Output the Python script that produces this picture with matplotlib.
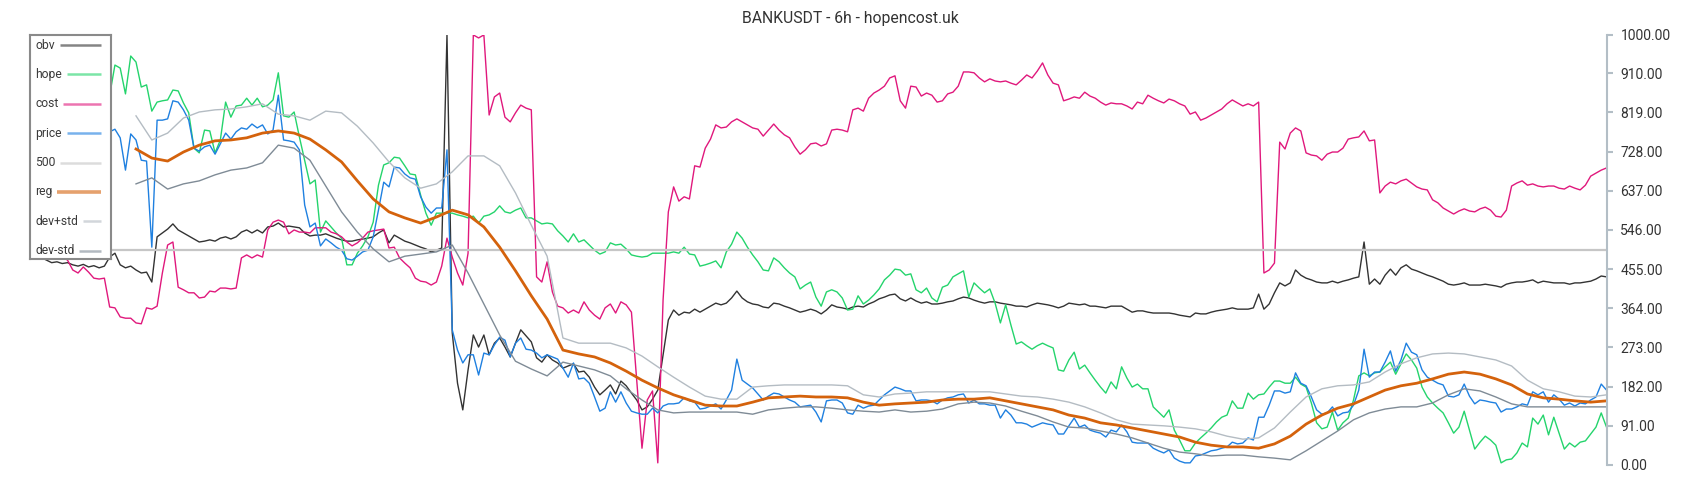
import numpy as np
import matplotlib
matplotlib.use('Agg')
import matplotlib.pyplot as plt
from matplotlib.colors import to_rgba

plt.rcParams['font.family'] = ['Roboto', 'DejaVu Sans']

title = 'BANKUSDT - 6h - hopencost.uk'
labels = ['obv', 'hope', 'cost', 'price', '500', 'reg', 'dev+std', 'dev-std']
level = 500
yticks = [0, 91, 182, 273, 364, 455, 546, 637, 728, 819, 910, 1000]

# one value per 6h candle
obv = [
    480, 478, 482, 476, 470, 472, 468, 470, 465, 462,
    466, 460, 463, 458, 462, 483, 492, 465, 458, 462,
    453, 446, 448, 425, 530, 539, 548, 560, 546, 539,
    532, 525, 518, 520, 523, 520, 527, 530, 525, 530,
    541, 546, 539, 546, 539, 553, 555, 562, 553, 555,
    553, 551, 539, 532, 534, 534, 537, 532, 527, 523,
    520, 520, 523, 525, 527, 530, 539, 546, 516, 534,
    527, 520, 516, 511, 506, 502, 495, 499, 504, 999,
    307, 190, 128, 221, 302, 274, 302, 256, 283, 295,
    274, 251, 283, 314, 300, 286, 249, 239, 256, 244,
    237, 225, 230, 235, 216, 218, 204, 181, 163, 174,
    186, 165, 195, 184, 167, 151, 128, 135, 153, 174,
    256, 337, 360, 348, 355, 353, 362, 355, 362, 369,
    376, 372, 376, 388, 404, 388, 379, 374, 372, 367,
    365, 376, 374, 369, 365, 360, 355, 358, 362, 358,
    351, 360, 372, 367, 365, 362, 367, 369, 367, 374,
    379, 386, 390, 395, 397, 386, 381, 388, 381, 376,
    379, 374, 374, 376, 379, 381, 386, 390, 388, 383,
    379, 376, 379, 379, 376, 374, 372, 369, 369, 367,
    372, 376, 374, 372, 369, 365, 369, 376, 374, 372,
    374, 369, 369, 367, 365, 369, 369, 369, 362, 355,
    358, 358, 355, 353, 353, 353, 353, 351, 348, 346,
    344, 353, 351, 351, 355, 358, 360, 362, 365, 362,
    362, 362, 365, 397, 362, 374, 400, 423, 416, 423,
    453, 441, 434, 430, 425, 423, 423, 427, 423, 427,
    430, 434, 437, 518, 420, 432, 420, 441, 455, 441,
    458, 465, 455, 451, 446, 441, 437, 432, 427, 420,
    418, 420, 423, 418, 418, 418, 420, 418, 416, 413,
    420, 423, 425, 425, 427, 430, 423, 427, 425, 423,
    423, 423, 420, 423, 423, 425, 427, 432, 439, 437,
]

hope = [
    880, 900, 870, 890, 860, 880, 900, 920, 890, 870,
    900, 880, 860, 870, 880, 859, 929, 922, 862, 950,
    936, 878, 883, 822, 843, 846, 848, 871, 869, 841,
    818, 736, 725, 778, 776, 725, 755, 843, 808, 834,
    836, 852, 836, 852, 832, 836, 848, 911, 811, 808,
    820, 762, 708, 653, 662, 541, 567, 553, 539, 527,
    465, 465, 492, 509, 530, 564, 650, 697, 702, 715,
    713, 695, 676, 674, 627, 585, 557, 585, 585, 585,
    585, 581, 578, 574, 578, 562, 578, 581, 588, 602,
    588, 585, 592, 597, 574, 574, 567, 560, 562, 560,
    544, 532, 518, 537, 518, 523, 511, 499, 490, 495,
    516, 511, 513, 502, 488, 485, 483, 485, 492, 492,
    492, 492, 495, 492, 506, 490, 488, 462, 465, 469,
    474, 458, 495, 513, 541, 527, 506, 488, 472, 453,
    451, 481, 472, 458, 446, 437, 409, 418, 425, 390,
    369, 402, 407, 402, 388, 360, 362, 393, 374, 383,
    395, 409, 430, 441, 455, 453, 441, 444, 407, 400,
    411, 388, 379, 413, 418, 437, 444, 451, 390, 423,
    411, 400, 409, 376, 330, 372, 325, 281, 286, 277,
    269, 277, 283, 277, 272, 221, 218, 244, 262, 223,
    232, 214, 197, 181, 167, 193, 177, 228, 202, 181,
    188, 177, 177, 135, 123, 111, 128, 81, 58, 33,
    33, 51, 63, 74, 86, 100, 111, 116, 149, 132,
    132, 167, 153, 163, 165, 181, 195, 195, 190, 190,
    204, 188, 181, 144, 98, 84, 88, 123, 81, 98,
    109, 151, 207, 214, 207, 214, 216, 228, 239, 211,
    235, 258, 244, 225, 181, 158, 144, 132, 121, 98,
    74, 88, 125, 81, 37, 53, 67, 58, 46, 5,
    12, 14, 28, 51, 42, 109, 95, 116, 70, 111,
    74, 37, 51, 42, 53, 56, 72, 88, 121, 88,
]

cost = [
    499, 504, 495, 499, 488, 492, 483, 476, 453, 446,
    460, 448, 434, 432, 434, 367, 365, 344, 341, 341,
    330, 328, 365, 362, 369, 446, 511, 518, 413, 407,
    400, 400, 388, 390, 404, 402, 411, 411, 409, 411,
    481, 488, 481, 488, 483, 546, 564, 569, 564, 537,
    546, 541, 541, 539, 551, 551, 551, 541, 537, 530,
    518, 509, 516, 527, 541, 544, 546, 548, 504, 506,
    481, 469, 458, 434, 427, 425, 418, 425, 462, 527,
    483, 446, 418, 492, 999, 992, 999, 813, 855, 864,
    808, 797, 818, 836, 829, 825, 437, 425, 472, 402,
    369, 365, 353, 360, 353, 379, 360, 348, 339, 365,
    374, 353, 379, 372, 355, 197, 39, 151, 172, 5,
    383, 588, 646, 613, 623, 618, 695, 692, 736, 757,
    790, 783, 785, 797, 804, 797, 790, 783, 780, 764,
    778, 792, 778, 767, 760, 739, 722, 732, 746, 748,
    741, 746, 778, 780, 778, 774, 825, 829, 822, 852,
    864, 871, 880, 899, 904, 846, 829, 880, 878, 857,
    864, 859, 843, 846, 862, 866, 880, 913, 913, 911,
    899, 890, 897, 892, 890, 892, 887, 883, 894, 906,
    899, 915, 934, 906, 887, 883, 846, 850, 855, 852,
    866, 857, 852, 843, 836, 841, 839, 839, 834, 827,
    843, 839, 859, 852, 846, 841, 850, 846, 839, 834,
    815, 820, 801, 806, 813, 820, 827, 839, 848, 841,
    834, 839, 834, 843, 446, 453, 469, 750, 734, 771,
    783, 776, 725, 720, 718, 708, 722, 727, 727, 736,
    757, 760, 762, 776, 753, 755, 632, 648, 657, 653,
    660, 664, 655, 646, 641, 639, 616, 609, 597, 590,
    583, 590, 595, 590, 588, 595, 599, 592, 578, 576,
    592, 648, 655, 660, 650, 653, 648, 646, 648, 648,
    643, 641, 648, 643, 639, 650, 671, 678, 685, 690,
]

price = [
    760, 740, 770, 750, 720, 760, 780, 750, 730, 760,
    740, 770, 750, 735, 745, 774, 780, 760, 685, 769,
    755, 708, 706, 506, 801, 801, 804, 846, 843, 825,
    801, 736, 729, 739, 743, 722, 746, 771, 757, 774,
    783, 780, 792, 783, 790, 769, 778, 859, 755, 753,
    750, 732, 604, 553, 562, 509, 525, 516, 506, 499,
    479, 476, 485, 495, 499, 530, 592, 657, 646, 692,
    690, 676, 667, 664, 623, 599, 585, 597, 597, 732,
    314, 267, 237, 256, 256, 209, 260, 256, 279, 297,
    290, 251, 283, 295, 269, 267, 260, 249, 256, 251,
    246, 225, 204, 237, 200, 202, 190, 158, 125, 132,
    170, 146, 170, 144, 125, 121, 118, 118, 132, 121,
    137, 142, 142, 144, 156, 149, 146, 130, 132, 137,
    142, 130, 151, 174, 246, 197, 188, 179, 165, 151,
    160, 167, 165, 158, 151, 146, 135, 137, 139, 123,
    100, 149, 151, 151, 144, 121, 118, 139, 132, 137,
    139, 151, 163, 172, 181, 177, 172, 172, 149, 151,
    151, 149, 142, 151, 156, 158, 163, 165, 144, 151,
    142, 142, 139, 139, 109, 128, 116, 98, 98, 95,
    88, 93, 98, 95, 93, 72, 72, 91, 109, 88,
    93, 81, 77, 74, 65, 81, 77, 93, 77, 53,
    51, 51, 51, 39, 33, 28, 35, 16, 9, 5,
    5, 21, 23, 28, 33, 35, 39, 42, 53, 49,
    51, 63, 58, 111, 111, 139, 172, 172, 167, 170,
    214, 190, 184, 158, 128, 118, 121, 135, 114, 121,
    123, 139, 174, 269, 204, 216, 216, 239, 265, 218,
    244, 283, 262, 256, 221, 204, 197, 190, 186, 160,
    158, 163, 188, 160, 142, 151, 149, 146, 144, 123,
    130, 130, 135, 142, 139, 170, 163, 170, 146, 163,
    153, 139, 144, 137, 144, 142, 151, 158, 188, 174,
]

# regression line and its bands, sampled every third candle from candle 20
band_start, band_step = 20, 3
reg = [
    734, 713, 706, 727, 743, 753, 755, 760, 771, 776,
    771, 757, 732, 704, 660, 618, 588, 574, 562, 576,
    592, 581, 553, 506, 451, 393, 339, 267, 258, 251,
    237, 218, 197, 179, 163, 151, 139, 137, 137, 146,
    156, 158, 160, 158, 158, 156, 146, 139, 142, 144,
    146, 151, 153, 153, 156, 149, 142, 135, 128, 116,
    109, 98, 93, 86, 79, 72, 65, 53, 46, 42,
    42, 39, 49, 67, 95, 116, 132, 142, 158, 174,
    184, 190, 200, 211, 216, 211, 200, 186, 165, 156,
    153, 149, 146, 149,
]
dev_plus = [
    811, 755, 771, 806, 820, 825, 827, 832, 839, 815,
    811, 801, 822, 818, 787, 748, 704, 667, 643, 653,
    681, 718, 718, 695, 632, 557, 485, 295, 283, 283,
    283, 272, 253, 228, 204, 181, 160, 153, 153, 181,
    184, 186, 186, 186, 186, 184, 163, 158, 165, 167,
    170, 170, 170, 170, 170, 165, 160, 158, 153, 146,
    135, 121, 105, 95, 93, 91, 88, 84, 77, 67,
    60, 63, 86, 123, 158, 177, 184, 186, 193, 216,
    235, 249, 258, 260, 258, 251, 244, 230, 197, 177,
    170, 160, 158, 163,
]
dev_minus = [
    653, 667, 641, 653, 660, 674, 685, 690, 702, 743,
    736, 708, 648, 588, 541, 502, 472, 485, 490, 495,
    511, 446, 374, 302, 241, 223, 207, 239, 230, 221,
    207, 177, 151, 128, 121, 123, 123, 123, 123, 118,
    128, 132, 135, 135, 132, 128, 125, 123, 128, 123,
    125, 130, 142, 146, 144, 137, 125, 114, 100, 88,
    86, 79, 72, 63, 51, 39, 30, 26, 21, 23,
    23, 19, 16, 12, 33, 56, 79, 105, 121, 130,
    135, 135, 144, 163, 177, 172, 158, 142, 135, 135,
    135, 135, 135, 135,
]

colors = ['#333333', '#24d46c', '#e0187c', '#1f80e0',
          '#c6c6c6', '#d4620c', '#b4bcc3', '#7f8b96']
widths = [1.0, 1.0, 1.0, 1.0, 1.6, 2.0, 1.0, 1.0]

W, H = 1700, 500
fig = plt.figure(figsize=(W / 100, H / 100), dpi=100)
ax = fig.add_axes([30.6 / W, 35 / H, (1606.5 - 30.6) / W, 430.5 / H])

series = [obv, hope, cost, price]
for vals, c, lw in zip(series, colors[:4], widths[:4]):
    ax.plot(np.arange(len(vals)), vals, color=c, lw=lw)
n = len(obv)
ax.plot(np.arange(n), np.full(n, level), color=colors[4], lw=widths[4])
for vals, c, lw in zip([reg, dev_plus, dev_minus], colors[5:], widths[5:]):
    xb = band_start + band_step * np.arange(len(vals))
    ax.plot(xb, vals, color=c, lw=lw)

ax.set_xlim(0, n - 1)
ax.set_ylim(0, 1000)
for s in ['top', 'left', 'bottom']:
    ax.spines[s].set_visible(False)
ax.spines['right'].set_color('#b3bec6')
ax.spines['right'].set_linewidth(1.5)
ax.set_xticks([])
ax.yaxis.tick_right()
ax.set_yticks(yticks)
ax.set_yticklabels(['%.2f' % t for t in yticks])
ax.tick_params(axis='y', length=4, width=1.5, color='#b3bec6',
               pad=6, labelsize=10, labelcolor='#333333')

fig.text(0.5, 1 - 19 / H, title, ha='center', va='center',
         fontsize=11.3, color='#333333')

# legend box, drawn by hand: label first, sample line after it
lx0, lx1, ly0, ly1 = 30, 111, 35, 259
leg = fig.add_axes([lx0 / W, 1 - ly1 / H, (lx1 - lx0) / W, (ly1 - ly0) / H])
leg.set_xlim(lx0, lx1)
leg.set_ylim(ly1, ly0)
leg.set_xticks([])
leg.set_yticks([])
leg.set_facecolor('white')
for s in leg.spines.values():
    s.set_color('#8a8a8a')
    s.set_linewidth(1.5)

texts = []
for k, lab in enumerate(labels):
    yk = 45 + 29.4 * k
    texts.append(leg.text(35, yk, lab, ha='left', va='center',
                          fontsize=8.7, color='#3a3a3a'))
fig.canvas.draw()
inv = leg.transData.inverted()
for k, t in enumerate(texts):
    bb = t.get_window_extent()
    xe = inv.transform((bb.x1, bb.y0))[0]
    yk = 45 + 29.4 * k
    leg.plot([xe + 5, 101], [yk, yk], color=to_rgba(colors[k], 0.6),
             lw=2.6 if k == 5 else 1.8, solid_capstyle='butt')

fig.savefig('out.png', dpi=100)
